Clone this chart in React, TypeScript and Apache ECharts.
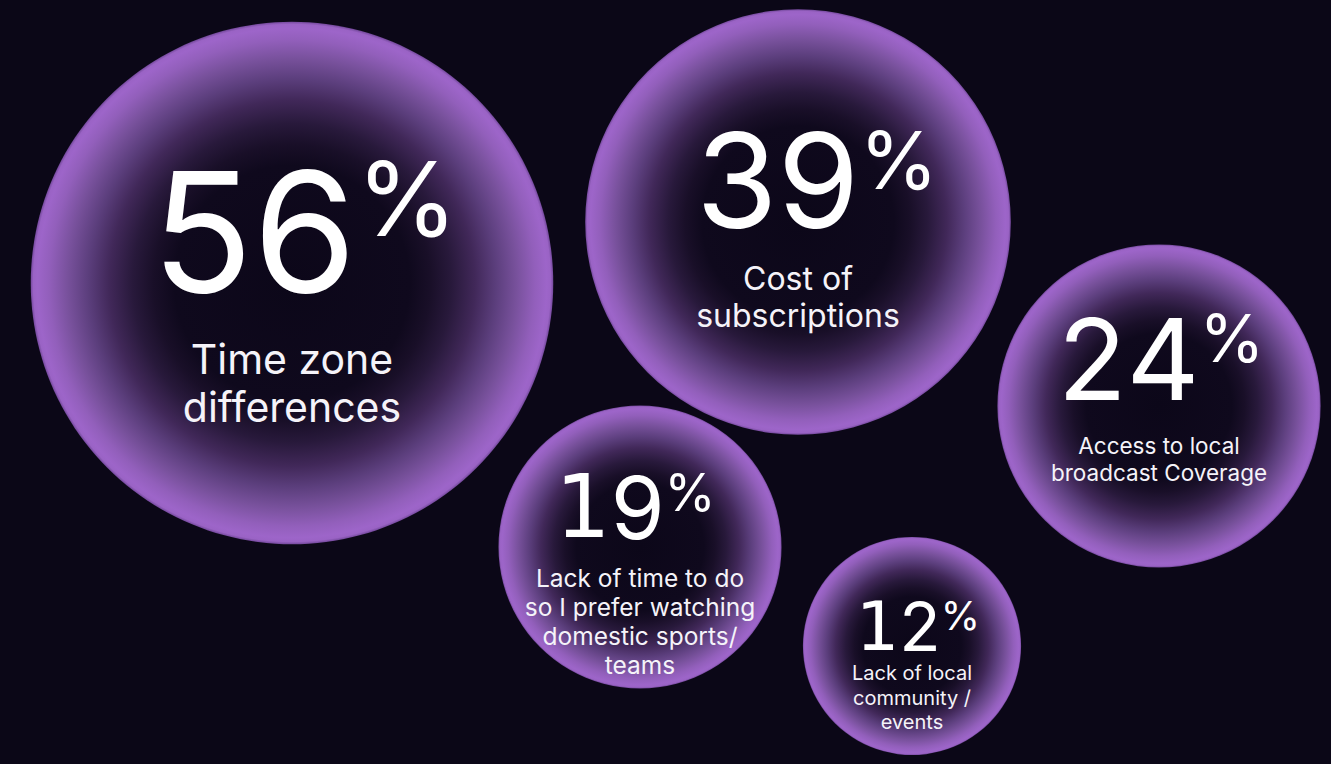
import React, { useEffect, useRef } from "react";
import * as echarts from "echarts";

// ---------------- DATA ----------------
const categories: string[] = [
  "Time zone\ndifferences",
  "Cost of\nsubscriptions",
  "Access to local\nbroadcast Coverage",
  "Lack of time to do\nso I prefer watching\ndomestic sports/\nteams",
  "Lack of local\ncommunity /\nevents",
];
const values: number[] = [56, 39, 24, 19, 12];

// ---------------- LAYOUT (bubble centres on hidden axes) ----------------
const layoutX: number[] = [292, 798, 1159, 640, 912];
const layoutY: number[] = [283, 222, 406, 547, 646];

// bubble radius from value (power scale)
const radiusScale = (v: number) => 26.66 * Math.pow(v, 0.567);

// ---------------- STYLES ----------------
const BG = "#0b0717";
const FONT = "Inter, 'Noto Sans', sans-serif";
const FONT_ONE = "'DejaVu Sans', Inter, sans-serif";
const LABEL_STYLE = [
  { numSize: 167, pctSize: 103, descSize: 41, dyNum: -52, dyPct: -85, dyDesc: 76, lineGap: 47.5, padL: 25, padR: 0 },
  { numSize: 132, pctSize: 80, descSize: 32, dyNum: -42, dyPct: -63, dyDesc: 56, lineGap: 37, padL: 38, padR: 0 },
  { numSize: 113, pctSize: 66, descSize: 22.5, dyNum: -47, dyPct: -68, dyDesc: 40, lineGap: 26.7, padL: 4, padR: 0 },
  { numSize: 87, pctSize: 52, descSize: 24.5, dyNum: -40, dyPct: -55, dyDesc: 30.5, lineGap: 29, padL: 0, padR: 9 },
  { numSize: 68, pctSize: 40, descSize: 20, dyNum: -20, dyPct: -31, dyDesc: 27, lineGap: 24.5, padL: 12, padR: 0 },
];

const bubbleFill = {
  type: "radial",
  x: 0.5,
  y: 0.5,
  r: 0.5,
  colorStops: [
    { offset: 0, color: "#0c0719" },
    { offset: 0.45, color: "#0f091d" },
    { offset: 0.53, color: "#190f28" },
    { offset: 0.61, color: "#28193b" },
    { offset: 0.7, color: "#412859" },
    { offset: 0.78, color: "#5b3e7c" },
    { offset: 0.86, color: "#78519c" },
    { offset: 0.93, color: "#925fbb" },
    { offset: 0.975, color: "#9d65c9" },
    { offset: 0.99, color: "#9a63c5" },
    { offset: 1, color: "#74499c" },
  ],
};

function buildLabel(i: number) {
  const s = LABEL_STYLE[i];
  const lines = categories[i].split("\n");
  const k = lines.length;
  const g = s.dyDesc - s.lineGap / 2 - s.dyNum;
  const L1 = 2 * g;
  const padTopPct = Math.max(0, s.dyPct - (s.dyNum - g) - s.pctSize / 2);
  const offsetY = s.dyNum + (k * s.lineGap) / 2;
  const digits = String(values[i])
    .split("")
    .map((c, j) => {
      const base = c === "1" ? "o" : "n";
      return `{${base}${j === 0 ? "f" : ""}|${c}}`;
    })
    .join("");
  const numStyle = (family: string, padL: number) => ({
    fontFamily: family,
    fontSize: s.numSize,
    fontWeight: 400,
    lineHeight: L1,
    color: "#ffffff",
    align: "center",
    padding: [0, 0, 0, padL],
  });
  return {
    show: true,
    position: "inside",
    offset: [0, offsetY],
    formatter: `${digits}{p|%}\n` + lines.map((l) => `{t|${l}}`).join("\n"),
    rich: {
      n: numStyle(FONT, 0),
      nf: numStyle(FONT, s.padL),
      o: numStyle(FONT_ONE, 0),
      of: numStyle(FONT_ONE, s.padL),
      p: {
        fontFamily: FONT,
        fontSize: s.pctSize,
        fontWeight: 400,
        verticalAlign: "top",
        padding: [padTopPct, s.padR, 0, 0],
        color: "#ffffff",
        align: "center",
      },
      t: {
        fontFamily: FONT,
        fontSize: s.descSize,
        fontWeight: 400,
        lineHeight: s.lineGap,
        color: "#f5f3f9",
        align: "center",
      },
    },
  };
}

export default function App() {
  const ref = useRef<HTMLDivElement>(null);

  useEffect(() => {
    document.body.style.margin = "0";
    document.body.style.background = BG;
    const chart = echarts.init(ref.current!, null, { renderer: "svg" });
    const data = values.map((v, i) => ({
      name: categories[i],
      value: [layoutX[i], layoutY[i], v],
      symbolSize: 2 * radiusScale(v),
      label: buildLabel(i),
    }));
    chart.setOption({
      animation: false,
      backgroundColor: BG,
      grid: { left: 0, right: 0, top: 0, bottom: 0 },
      xAxis: { type: "value", min: 0, max: 1331, show: false },
      yAxis: { type: "value", min: 0, max: 764, inverse: true, show: false },
      series: [
        {
          type: "scatter",
          clip: false,
          silent: true,
          symbol: "circle",
          itemStyle: { color: bubbleFill as any, opacity: 1 },
          emphasis: { disabled: true },
          data,
        },
      ],
    });
    return () => chart.dispose();
  }, []);

  return (
    <div
      ref={ref}
      style={{ position: "fixed", left: 0, top: 0, width: 1331, height: 764, background: BG }}
    />
  );
}
